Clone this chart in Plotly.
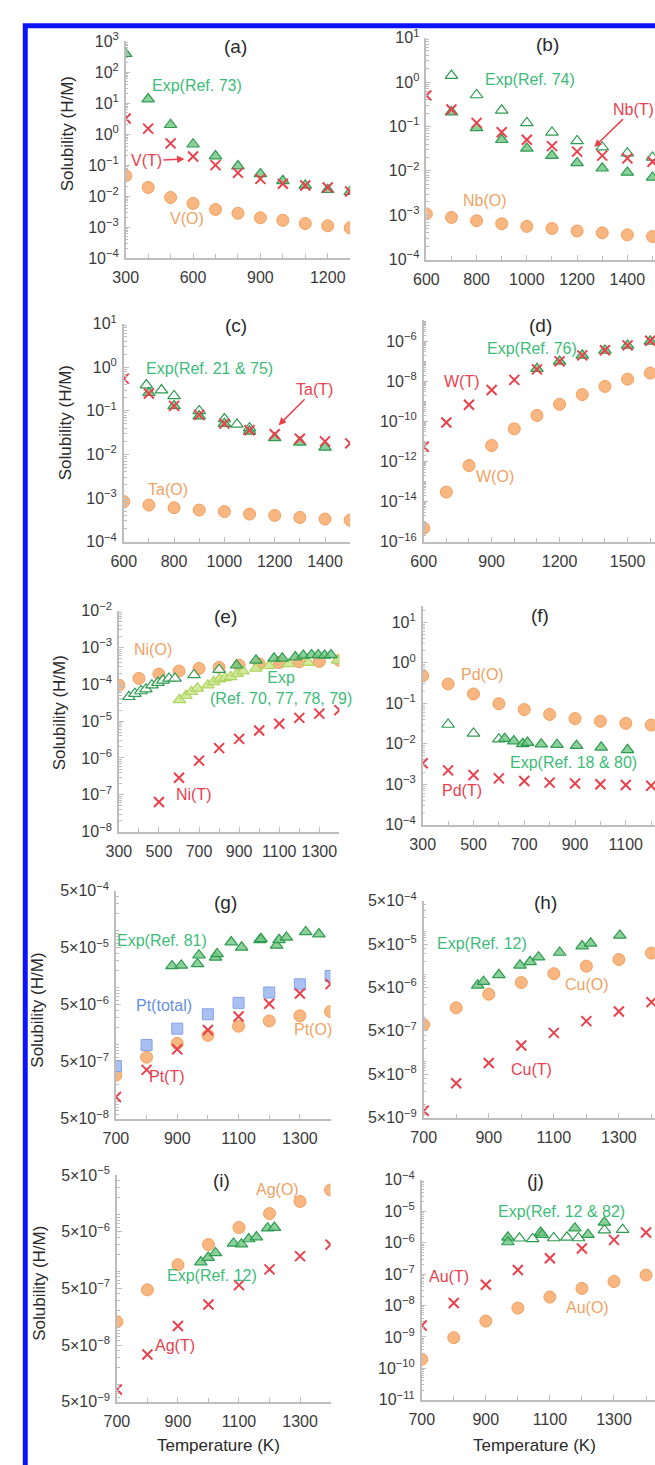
import math
import plotly.graph_objects as go

# ---------------- data ----------------
# (a) V
a_T = [300, 400, 500, 600, 700, 800, 900, 1000, 1100, 1200, 1300]
a_exp = [390, 13.5, 2.0, 0.47, 0.195, 0.093, 0.052, 0.031, 0.022, 0.016, 0.0138]
a_tet = [3.2, 1.5, 0.5, 0.19, 0.1, 0.056, 0.036, 0.025, 0.022, 0.019, 0.014]
a_oct = [0.045, 0.019, 0.009, 0.0058, 0.0037, 0.0028, 0.002, 0.00165, 0.0013, 0.0011, 0.00095]
# (b) Nb
b_T = [600, 700, 800, 900, 1000, 1100, 1200, 1300, 1400, 1500]
b_tet = [0.5, 0.24, 0.12, 0.074, 0.05, 0.036, 0.027, 0.022, 0.019, 0.016]
b_oct = [1.07e-3, 8.9e-4, 7.5e-4, 6.4e-4, 5.6e-4, 5.0e-4, 4.4e-4, 4.0e-4, 3.6e-4, 3.3e-4]
b_exp_T = [700, 800, 900, 1000, 1100, 1200, 1300, 1400, 1500]
b_exp_open = [1.4, 0.51, 0.23, 0.12, 0.073, 0.047, 0.034, 0.025, 0.02]
b_exp_fill = [0.21, 0.093, 0.05, 0.032, 0.022, 0.015, 0.0114, 0.0092, 0.0071]
# (c) Ta
c_T = [600, 700, 800, 900, 1000, 1100, 1200, 1300, 1400, 1500]
c_tet = [0.55, 0.25, 0.13, 0.081, 0.051, 0.036, 0.029, 0.023, 0.02, 0.018]
c_oct = [8.3e-4, 6.9e-4, 6.0e-4, 5.3e-4, 4.9e-4, 4.3e-4, 4.0e-4, 3.6e-4, 3.3e-4, 3.1e-4]
c_exp_open_T = [690, 750, 800, 900, 1000, 1050, 1100]
c_exp_open = [0.39, 0.3, 0.22, 0.1, 0.065, 0.049, 0.04]
c_exp_fill_T = [700, 800, 900, 1000, 1100, 1200, 1300, 1400]
c_exp_fill = [0.26, 0.13, 0.076, 0.051, 0.034, 0.024, 0.019, 0.0145]
# (d) W
d_T = [600, 700, 800, 900, 1000, 1100, 1200, 1300, 1400, 1500, 1600]
d_tet = [5.5e-12, 8.9e-11, 6.8e-10, 3.7e-9, 1.2e-8, 4.0e-8, 1.0e-7, 2.0e-7, 3.6e-7, 6.3e-7, 1.07e-6]
d_oct = [4.7e-16, 3.0e-14, 6.3e-13, 6.3e-12, 4.3e-11, 2.0e-10, 7.2e-10, 2.2e-9, 5.6e-9, 1.3e-8, 2.6e-8]
d_exp_T = [1100, 1200, 1300, 1400, 1500, 1600]
d_exp = [4.3e-8, 1.0e-7, 2.0e-7, 3.5e-7, 6.3e-7, 1.0e-6]
# (e) Ni
e_T = [300, 400, 500, 600, 700, 800, 900, 1000, 1100, 1200, 1300, 1400]
e_oct = [9.5e-5, 1.45e-4, 1.9e-4, 2.3e-4, 2.7e-4, 2.9e-4, 3.3e-4, 3.6e-4, 3.9e-4, 4.1e-4, 4.2e-4, 4.5e-4]
e_tet_T = [500, 600, 700, 800, 900, 1000, 1100, 1200, 1300, 1400]
e_tet = [6.4e-8, 2.9e-7, 8.5e-7, 1.85e-6, 3.3e-6, 5.6e-6, 8.5e-6, 1.23e-5, 1.6e-5, 2.0e-5]
e_exp1_T = [350, 380, 410, 435, 465, 495, 520, 550, 580, 675, 800]
e_exp1 = [4.6e-5, 5.6e-5, 6.6e-5, 7.4e-5, 9.5e-5, 1.12e-4, 1.29e-4, 1.45e-4, 1.45e-4, 1.8e-4, 2.5e-4]
e_exp2_T = [602, 635, 662, 692, 744, 773, 802, 830, 858, 890, 919, 984, 1050, 1147, 1245, 1391]
e_exp2 = [3.8e-5, 4.9e-5, 6.3e-5, 7.8e-5, 9.5e-5, 1.17e-4, 1.38e-4, 1.5e-4, 1.6e-4, 1.95e-4, 2.3e-4, 2.7e-4, 3.2e-4, 3.6e-4, 3.9e-4, 4.5e-4]
e_exp3_T = [887, 984, 1074, 1115, 1180, 1220, 1261, 1294, 1326, 1358]
e_exp3 = [3.3e-4, 4.5e-4, 5.1e-4, 5.1e-4, 5.5e-4, 6.1e-4, 6.3e-4, 6.3e-4, 6.1e-4, 6.3e-4]
# (f) Pd
f_T = [300, 400, 500, 600, 700, 800, 900, 1000, 1100, 1200]
f_oct = [0.48, 0.3, 0.17, 0.098, 0.07, 0.053, 0.042, 0.036, 0.032, 0.029]
f_tet = [3.3e-3, 2.2e-3, 1.7e-3, 1.4e-3, 1.2e-3, 1.1e-3, 1.04e-3, 1.0e-3, 9.6e-4, 9.2e-4]
f_exp_open_T = [400, 500, 600]
f_exp_open = [0.03, 0.018, 0.013]
f_exp_fill_T = [623, 659, 694, 713, 767, 829, 906, 1003, 1107]
f_exp_fill = [0.0134, 0.0117, 0.010, 0.0107, 0.0098, 0.0095, 0.009, 0.0082, 0.0071]
# (g) Pt
g_T = [700, 800, 900, 1000, 1100, 1200, 1300, 1400]
g_total = [4.2e-7, 9.8e-7, 1.9e-6, 3.4e-6, 5.4e-6, 8.2e-6, 1.14e-5, 1.6e-5]
g_tet = [1.2e-7, 3.6e-7, 8.3e-7, 1.8e-6, 3.1e-6, 5.2e-6, 7.9e-6, 1.15e-5]
g_oct = [2.9e-7, 6.0e-7, 1.05e-6, 1.45e-6, 2.1e-6, 2.6e-6, 3.2e-6, 3.8e-6]
g_exp_T = [883, 913, 966, 971, 1025, 1030, 1076, 1110, 1170, 1173, 1224, 1232, 1256, 1319, 1362]
g_exp = [2.4e-5, 2.45e-5, 2.6e-5, 3.7e-5, 3.4e-5, 3.9e-5, 6.3e-5, 5.1e-5, 6.9e-5, 7.2e-5, 5.5e-5, 6.9e-5, 7.6e-5, 9.5e-5, 8.7e-5]
# (h) Cu
h_T = [700, 800, 900, 1000, 1100, 1200, 1300, 1400]
h_oct = [6.9e-7, 1.7e-6, 3.5e-6, 6.5e-6, 1.04e-5, 1.55e-5, 2.2e-5, 3.1e-5]
h_tet = [7.2e-9, 3.1e-8, 9.1e-8, 2.3e-7, 4.5e-7, 8.4e-7, 1.4e-6, 2.3e-6]
h_exp_T = [866, 884, 931, 996, 1027, 1053, 1118, 1187, 1213, 1303]
h_exp = [5.6e-6, 6.8e-6, 9.8e-6, 1.62e-5, 1.95e-5, 2.5e-5, 3.2e-5, 4.5e-5, 5.2e-5, 7.9e-5]
# (i) Ag
i_T = [700, 800, 900, 1000, 1100, 1200, 1300, 1400]
i_oct = [1.29e-7, 4.7e-7, 1.3e-6, 2.95e-6, 5.9e-6, 1.04e-5, 1.7e-5, 2.7e-5]
i_tet = [8.2e-9, 3.4e-8, 1.08e-7, 2.6e-7, 5.7e-7, 1.08e-6, 1.85e-6, 2.95e-6]
i_exp_T = [975, 999, 1023, 1082, 1108, 1132, 1157, 1194, 1216]
i_exp = [1.45e-6, 1.74e-6, 2.1e-6, 3.1e-6, 3.0e-6, 3.7e-6, 4.0e-6, 5.75e-6, 5.9e-6]
# (j) Au
j_T = [700, 800, 900, 1000, 1100, 1200, 1300, 1400]
j_tet = [2.3e-9, 1.2e-8, 4.6e-8, 1.35e-7, 3.2e-7, 6.5e-7, 1.23e-6, 2.1e-6]
j_oct = [1.95e-10, 9.5e-10, 3.2e-9, 8.3e-9, 1.86e-8, 3.5e-8, 5.8e-8, 9.3e-8]
j_exp_fill_T = [969, 969, 1071, 1076, 1178, 1219, 1270]
j_exp_fill = [1.48e-6, 1.05e-6, 2.1e-6, 1.8e-6, 2.9e-6, 1.8e-6, 4.4e-6]
j_exp_open_T = [1005, 1046, 1112, 1153, 1189, 1270, 1327]
j_exp_open = [1.38e-6, 1.32e-6, 1.41e-6, 1.48e-6, 1.41e-6, 2.5e-6, 2.6e-6]

# ---------------- styling ----------------
W, H = 655, 1465
FONT = "Liberation Sans, Arial, Helvetica, sans-serif"
GREEN_EDGE = "#2f9a52"
GREEN_FILL = "rgba(110,198,128,0.8)"
GREEN_TEXT = "#3dbb78"
YG_FILL = "rgba(205,232,145,0.9)"
YG_EDGE = "#aed462"
RED = "#e8414e"
OR_FILL = "#f8b680"
OR_EDGE = "#f2a060"
OR_TEXT = "#f0a264"
BL_FILL = "#a8c0f2"
BL_EDGE = "#86a2e6"
BL_TEXT = "#6a8ee4"
AXIS = "#bdbdbd"
TICKTXT = "#3a3a3a"

SUP_MINUS = "\u2212"


def pow_label(k, five=False):
    s = ("5×10" if five else "10") + "<sup>" + (SUP_MINUS if k < 0 else "") + str(abs(k)) + "</sup>"
    return s


# panel geometry in pixels: x(left,right), y(top,bottom), ranges
panels = {
    "a": dict(xpx=(115, 344), ypx=(30.5, 250.5), xr=(300, 1300), yr=(-4, 3), t0=300, dt=300, ystep=1, five=False),
    "b": dict(xpx=(421.7, 655), ypx=(27, 252), xr=(600, 1510), yr=(-4, 1), t0=600, dt=200, ystep=1, five=False),
    "c": dict(xpx=(113, 344), ypx=(317, 538), xr=(600, 1500), yr=(-4, 1), t0=600, dt=200, ystep=1, five=False),
    "d": dict(xpx=(419, 655), ypx=(313, 538), xr=(600, 1621), yr=(-16, -4.92), t0=600, dt=300, ystep=2, five=False),
    "e": dict(xpx=(108, 333), ypx=(608, 832), xr=(300, 1400), yr=(-8, -2), t0=300, dt=200, ystep=1, five=False),
    "f": dict(xpx=(418, 655), ypx=(603, 825), xr=(300, 1215), yr=(-4, 1.41), t0=300, dt=200, ystep=1, five=False),
    "g": dict(xpx=(105, 324), ypx=(892, 1123), xr=(700, 1400), yr=(math.log10(5e-8), math.log10(5e-4)), t0=700, dt=200, ystep=1, five=True),
    "h": dict(xpx=(419, 655), ypx=(902, 1122), xr=(700, 1411), yr=(math.log10(5e-9), math.log10(5e-4)), t0=700, dt=200, ystep=1, five=True),
    "i": dict(xpx=(106, 324), ypx=(1180, 1410), xr=(700, 1400), yr=(math.log10(5e-9), math.log10(5e-5)), t0=700, dt=200, ystep=1, five=True),
    "j": dict(xpx=(417, 655), ypx=(1185, 1408), xr=(700, 1428), yr=(-11, -4), t0=700, dt=200, ystep=1, five=False),
}
order = ["a", "b", "c", "d", "e", "f", "g", "h", "i", "j"]

fig = go.Figure()
layout = {}
axis_ids = {}
for n, key in enumerate(order, start=1):
    p = panels[key]
    sx = "" if n == 1 else str(n)
    axis_ids[key] = ("x" + sx, "y" + sx)
    lo, hi = p["yr"]
    kmin, kmax = math.floor(lo) - 1, math.ceil(hi) + 1
    if p["five"]:
        major = [5 * 10.0 ** k for k in range(kmin, kmax + 1) if lo - 1e-6 <= math.log10(5 * 10.0 ** k) <= hi + 1e-6]
        text = [pow_label(round(math.log10(v / 5)), True) for v in major]
        minor = [m * 10.0 ** k for k in range(kmin, kmax + 1) for m in (1, 2, 3, 4, 6, 7, 8, 9)
                 if lo <= math.log10(m * 10.0 ** k) <= hi]
    else:
        ks = [k for k in range(kmin, kmax + 1) if lo - 1e-6 <= k <= hi + 1e-6 and (k - math.ceil(lo - 1e-6)) % p["ystep"] == 0]
        major = [10.0 ** k for k in ks]
        text = [pow_label(k) for k in ks]
        minor = [m * 10.0 ** k for k in range(kmin, kmax + 1) for m in range(1, 10)
                 if lo <= math.log10(m * 10.0 ** k) <= hi and not (m == 1 and k in ks)]
    layout["xaxis" + sx] = dict(
        domain=[p["xpx"][0] / W, p["xpx"][1] / W], range=list(p["xr"]), anchor="y" + sx,
        showline=True, linecolor=AXIS, linewidth=1.5, showgrid=False, zeroline=False,
        ticks="inside", ticklen=5, tickcolor=AXIS, tickwidth=1,
        tickmode="linear", tick0=p["t0"], dtick=p["dt"],
        tickfont=dict(family=FONT, size=16, color=TICKTXT), ticklabelstandoff=4,
        minor=dict(ticks="inside", ticklen=4, tickcolor=AXIS, dtick=100, tick0=p["t0"], showgrid=False),
    )
    layout["yaxis" + sx] = dict(
        domain=[1 - p["ypx"][1] / H, 1 - p["ypx"][0] / H], range=[lo, hi], type="log", anchor="x" + sx,
        showline=True, linecolor=AXIS, linewidth=1.5, showgrid=False, zeroline=False,
        ticks="inside", ticklen=5, tickcolor=AXIS, tickwidth=1,
        tickmode="array", tickvals=major, ticktext=text,
        tickfont=dict(family=FONT, size=16, color=TICKTXT), ticklabelstandoff=2,
        minor=dict(ticks="inside", ticklen=3, tickcolor=AXIS, tickmode="array", tickvals=minor, showgrid=False),
    )


def add(key, x, y, kind):
    xa, ya = axis_ids[key]
    if kind == "tri":
        mk = dict(symbol="triangle-up", size=11, color=GREEN_FILL, line=dict(color=GREEN_EDGE, width=1.2))
    elif kind == "tri_open":
        mk = dict(symbol="triangle-up", size=11, color="rgba(255,255,255,0.85)", line=dict(color=GREEN_EDGE, width=1.2))
    elif kind == "tri_yg":
        mk = dict(symbol="triangle-up", size=11, color=YG_FILL, line=dict(color=YG_EDGE, width=1.2))
    elif kind == "x":
        mk = dict(symbol="x-thin", size=10, color=RED, line=dict(color=RED, width=2))
    elif kind == "o":
        mk = dict(symbol="circle", size=12, color=OR_FILL, line=dict(color=OR_EDGE, width=1))
    elif kind == "sq":
        mk = dict(symbol="square", size=11, color=BL_FILL, line=dict(color=BL_EDGE, width=1))
    fig.add_trace(go.Scatter(x=x, y=y, mode="markers", marker=mk, xaxis=xa, yaxis=ya,
                             showlegend=False, hoverinfo="x+y"))


add("a", a_T, a_oct, "o"); add("a", a_T, a_exp, "tri"); add("a", a_T, a_tet, "x")
add("b", b_T, b_oct, "o"); add("b", b_exp_T, b_exp_open, "tri_open"); add("b", b_exp_T, b_exp_fill, "tri"); add("b", b_T, b_tet, "x")
add("c", c_T, c_oct, "o"); add("c", c_exp_open_T, c_exp_open, "tri_open"); add("c", c_exp_fill_T, c_exp_fill, "tri"); add("c", c_T, c_tet, "x")
add("d", d_T, d_oct, "o"); add("d", d_exp_T, d_exp, "tri"); add("d", d_T, d_tet, "x")
add("e", e_T, e_oct, "o"); add("e", e_exp2_T, e_exp2, "tri_yg"); add("e", e_exp1_T, e_exp1, "tri_open"); add("e", e_exp3_T, e_exp3, "tri"); add("e", e_tet_T, e_tet, "x")
add("f", f_T, f_oct, "o"); add("f", f_exp_open_T, f_exp_open, "tri_open"); add("f", f_exp_fill_T, f_exp_fill, "tri"); add("f", f_T, f_tet, "x")
add("g", g_T, g_oct, "o"); add("g", g_T, g_total, "sq"); add("g", g_exp_T, g_exp, "tri"); add("g", g_T, g_tet, "x")
add("h", h_T, h_oct, "o"); add("h", h_exp_T, h_exp, "tri"); add("h", h_T, h_tet, "x")
add("i", i_T, i_oct, "o"); add("i", i_exp_T, i_exp, "tri"); add("i", i_T, i_tet, "x")
add("j", j_T, j_oct, "o"); add("j", j_exp_open_T, j_exp_open, "tri_open"); add("j", j_exp_fill_T, j_exp_fill, "tri"); add("j", j_T, j_tet, "x")

# ---------------- annotations ----------------
ann = []


def lab(text, px, py, color, size=16, angle=0):
    ann.append(dict(text=text, x=px / W, y=1 - py / H, xref="paper", yref="paper", showarrow=False,
                    xanchor="center", yanchor="middle", textangle=angle,
                    font=dict(family=FONT, size=size, color=color)))


def arrow_lab(text, tx, ty, hx, hy, color):
    ann.append(dict(text=text, x=hx / W, y=1 - hy / H, xref="paper", yref="paper", showarrow=True,
                    ax=tx - hx, ay=ty - hy, axref="pixel", ayref="pixel",
                    arrowhead=2, arrowsize=1, arrowwidth=1.5, arrowcolor=color, standoff=0,
                    font=dict(family=FONT, size=16, color=color)))


BLACK = "#2a2a2a"
for key, (px, py) in {"a": (227, 36), "b": (545, 34), "c": (228, 319), "d": (538, 319), "e": (217, 614),
                      "f": (538, 613), "g": (217, 904), "h": (543, 904), "i": (213, 1186), "j": (533, 1186)}.items():
    lab("(" + key + ")", px, py, BLACK, size=19)

lab("Exp(Ref. 73)", 188, 76, GREEN_TEXT)
arrow_lab("V(T)", 137, 152, 175, 150, RED)
lab("V(O)", 178, 210, OR_TEXT)
lab("Exp(Ref. 74)", 527, 69, GREEN_TEXT)
arrow_lab("Nb(T)", 632, 100, 593, 138, RED)
lab("Nb(O)", 482, 192, OR_TEXT)
lab("Exp(Ref. 21 &amp; 75)", 200, 362, GREEN_TEXT)
arrow_lab("Ta(T)", 307, 384, 271, 420, RED)
lab("Ta(O)", 158, 485, OR_TEXT)
lab("Exp(Ref. 76)", 529, 342, GREEN_TEXT)
lab("W(T)", 458, 376, RED)
lab("W(O)", 492, 472, OR_TEXT)
lab("Ni(O)", 143, 647, OR_TEXT)
lab("Exp<br>(Ref. 70, 77, 78, 79)", 273, 686, GREEN_TEXT)
lab("Ni(T)", 185, 794, RED)
lab("Pd(O)", 479, 673, OR_TEXT)
lab("Exp(Ref. 18 &amp; 80)", 572, 762, GREEN_TEXT)
lab("Pd(T)", 458, 790, RED)
lab("Exp(Ref. 81)", 152, 942, GREEN_TEXT)
lab("Pt(total)", 154, 1008, BL_TEXT)
lab("Pt(O)", 306, 1033, OR_TEXT)
lab("Pt(T)", 157, 1080, RED)
lab("Exp(Ref. 12)", 478, 945, GREEN_TEXT)
lab("Cu(O)", 586, 987, OR_TEXT)
lab("Cu(T)", 529, 1073, RED)
lab("Ag(O)", 270, 1195, OR_TEXT)
lab("Exp(Ref. 12)", 203, 1282, GREEN_TEXT)
lab("Ag(T)", 165, 1353, RED)
lab("Exp(Ref. 12 &amp; 82)", 560, 1217, GREEN_TEXT)
lab("Au(T)", 445, 1283, RED)
lab("Au(O)", 586, 1314, OR_TEXT)

for px, py in [(55, 124), (53, 417), (47, 712), (25, 1013), (27, 1290)]:
    lab("Solubility (H/M)", px, py, BLACK, size=17, angle=-90)
for px, py in [(210, 1454), (532, 1454)]:
    lab("Temperature (K)", px, py, BLACK, size=17)

layout.update(
    width=W, height=H, autosize=False,
    margin=dict(l=0, r=0, t=0, b=0, pad=0),
    paper_bgcolor="white", plot_bgcolor="white",
    showlegend=False, annotations=ann,
    shapes=[dict(type="rect", xref="paper", yref="paper",
                 x0=12.5 / W, x1=1.05, y0=-0.05, y1=1 - 15 / H,
                 line=dict(color="#0a14ff", width=5), fillcolor="rgba(0,0,0,0)", layer="above")],
)
fig.update_layout(**layout)
fig.write_html("out.html")
